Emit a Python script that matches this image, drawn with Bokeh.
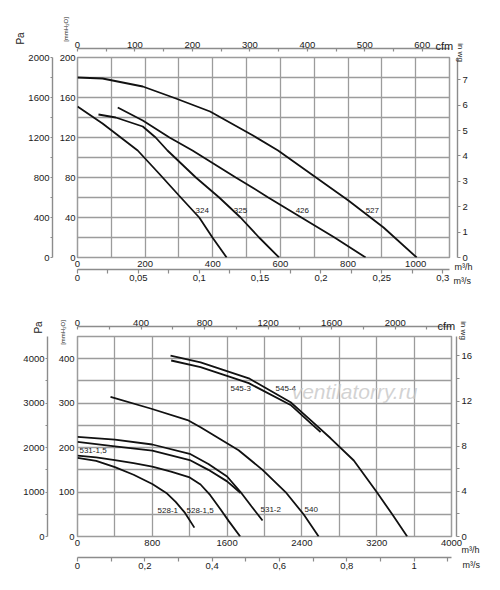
import math
from bokeh.plotting import figure
from bokeh.models import Range1d, LinearAxis, FixedTicker, Label, ColumnDataSource
from bokeh.layouts import column
from bokeh.embed import file_html
from bokeh.resources import INLINE
from bokeh.core.properties import value

FONT = "Liberation Sans"
INK = "#1a1a1a"
GRID = "#9c9c9c"
AXIS = "#8c8c8c"
TICK_SIZE = "9.5px"

# ---------------- top chart data (m3/h , mmH2O) ----------------
q324 = [0, 74, 178, 241, 300, 360, 399, 441]
p324 = [151, 134, 107, 84, 62, 40, 20, 0]
q325 = [62, 113, 193, 231, 266, 350, 419, 482, 537, 596]
p325 = [143, 140, 131, 120, 107, 80, 60, 40, 20, 0]
q426 = [119, 193, 272, 340, 468, 517, 564, 662, 760, 852]
p426 = [150, 137, 120, 107, 80, 70, 60, 40, 20, 0]
q527 = [0, 74, 193, 291, 392, 519, 593, 697, 801, 905, 1003]
p527 = [180, 179, 171, 159, 146, 122, 107, 82, 57, 30, 0]

top_names = ["324", "325", "426", "527"]
top_name_q = [349, 462, 645, 852]
top_name_p = [47, 47, 47, 47]

top_q_max = 1100
top_p_max = 200
top_mh_ticks = [0, 200, 400, 600, 800, 1000]
top_grid_q = list(range(0, 1101, 100))
top_grid_p = list(range(0, 201, 20))
top_mm_ticks = [0, 40, 80, 120, 160, 200]
top_pa_ticks = [0, 400, 800, 1200, 1600, 2000]
top_pa_minor = [200, 600, 1000, 1400, 1800]
top_inwg_ticks = [0, 1, 2, 3, 4, 5, 6, 7]
top_cfm_ticks = [0, 100, 200, 300, 400, 500, 600]
top_cfm_minor = [50, 150, 250, 350, 450, 550]
top_ms_ticks = [0, 0.05, 0.1, 0.15, 0.2, 0.25, 0.3]
top_ms_labels = ["0", "0,05", "0,1", "0,15", "0,2", "0,25", "0,3"]
top_ms_minor = [0.025, 0.075, 0.125, 0.175, 0.225, 0.275]

# ---------------- bottom chart data (m3/h , mmH2O) ----------------
q545_3 = [1002, 1316, 1832, 2279, 2493, 2600]
p545_3 = [396, 381, 345, 296, 255, 235]
q545_4 = [995, 1316, 1832, 2279, 2493, 2707, 2955, 3200, 3366, 3526]
p545_4 = [407, 392, 356, 302, 262, 221, 171, 100, 50, 0]
q540 = [353, 781, 1177, 1316, 1723, 1979, 2225, 2418, 2579]
p540 = [314, 288, 262, 246, 194, 150, 100, 50, 0]
q531_2 = [0, 400, 800, 1200, 1400, 1600, 1744, 1860, 1979]
p531_2 = [224, 218, 207, 186, 163, 135, 100, 68, 36]
q531_15 = [0, 400, 800, 1200, 1400, 1600, 1744]
p531_15 = [213, 203, 193, 172, 150, 124, 98]
q528_15 = [0, 200, 400, 600, 800, 1000, 1200, 1316, 1420, 1527, 1620, 1740]
p528_15 = [182, 178, 172, 165, 157, 146, 133, 117, 93, 62, 34, 0]
q528_1 = [0, 200, 400, 600, 800, 950, 1050, 1150, 1250]
p528_1 = [177, 170, 156, 139, 118, 98, 78, 53, 20]

bot_names = ["545-3", "545-4", "531-1,5", "528-1", "528-1,5", "531-2", "540"]
bot_name_q = [1636, 2118, 21, 856, 1166, 1957, 2428]
bot_name_p = [333, 333, 194, 58, 58, 61, 61]

bot_q_max = 4000
bot_p_max = 450
bot_mh_ticks = [0, 800, 1600, 2400, 3200, 4000]
bot_grid_q = list(range(0, 4001, 400))
bot_grid_p = list(range(0, 451, 50))
bot_mm_ticks = [0, 100, 200, 300, 400]
bot_pa_ticks = [0, 1000, 2000, 3000, 4000]
bot_pa_minor = [500, 1500, 2500, 3500]
bot_inwg_ticks = [0, 4, 8, 12, 16]
bot_inwg_minor = [2, 6, 10, 14]
bot_cfm_ticks = [0, 400, 800, 1200, 1600, 2000]
bot_cfm_minor = [200, 600, 1000, 1400, 1800, 2200]
bot_ms_ticks = [0, 0.2, 0.4, 0.6, 0.8, 1.0]
bot_ms_labels = ["0", "0,2", "0,4", "0,6", "0,8", "1"]
bot_ms_minor = [0.1, 0.3, 0.5, 0.7, 0.9, 1.1]

watermark = "ventilatorry.ru"

CFM = 1.699      # m3/h per cfm
INWG = 25.4      # mmH2O per in wg
PA = 10.0        # Pa per mmH2O (as drawn on the chart)


def spacer(n, at, **kw):
    # blank axis that only reserves a gap of about n pixels
    return LinearAxis(ticker=FixedTicker(ticks=[at]), axis_line_color=None,
                      major_tick_line_color=None, minor_tick_line_color=None,
                      major_tick_out=0, major_tick_in=0, minor_tick_out=0, minor_tick_in=0,
                      major_label_standoff=max(n - 1, 0), major_label_text_font_size="1px",
                      major_label_text_color="white", major_label_overrides={at: " "}, **kw)


def axis(ticks, minor=None, labels=None, line=True, t_in=0, t_out=0, standoff=2, **kw):
    ax = LinearAxis(ticker=FixedTicker(ticks=ticks, minor_ticks=minor or []), **kw)
    ax.axis_line_color = AXIS if line else None
    ax.axis_line_width = 1.4
    ax.major_tick_line_color = AXIS if (t_in or t_out) else None
    ax.minor_tick_line_color = AXIS if (minor and (t_in or t_out)) else None
    ax.major_tick_line_width = 1.2
    ax.minor_tick_line_width = 1.2
    ax.major_tick_in = t_in
    ax.major_tick_out = t_out
    ax.minor_tick_in = t_in
    ax.minor_tick_out = t_out
    ax.major_label_standoff = standoff
    ax.major_label_text_font = FONT
    ax.major_label_text_font_size = TICK_SIZE
    ax.major_label_text_color = INK
    if labels is not None:
        ax.major_label_overrides = {t: l for t, l in zip(ticks, labels)}
    return ax


def note(p, side, x, y, text, size, angle=0.0, align="left", baseline="middle"):
    # unit caption placed in a side panel, positioned in canvas pixels
    p.add_layout(Label(x=x, y=y, x_units="canvas", y_units="canvas", text=text,
                       angle=angle, text_align=align, text_baseline=baseline,
                       text_font=FONT, text_font_size=size, text_color=INK), side)


def base(qmax, pmax, fw, fh, bl, br, bt, bb, grid_q, grid_p):
    p = figure(frame_width=fw, frame_height=fh, x_range=Range1d(0, qmax), y_range=Range1d(0, pmax),
               x_axis_location=None, y_axis_location=None, toolbar_location=None,
               output_backend="svg", min_border_left=bl, min_border_right=br,
               min_border_top=bt, min_border_bottom=bb,
               background_fill_color="white", border_fill_color="white")
    p.xgrid.ticker = FixedTicker(ticks=grid_q)
    p.ygrid.ticker = FixedTicker(ticks=grid_p)
    p.grid.grid_line_color = GRID
    p.grid.grid_line_width = 1.3
    p.outline_line_color = GRID
    p.outline_line_width = 1.5
    p.extra_x_ranges = {"cfm": Range1d(0, qmax / CFM), "ms": Range1d(0, qmax / 3600.0)}
    p.extra_y_ranges = {"pa": Range1d(0, pmax * PA), "inwg": Range1d(0, pmax / INWG)}
    return p


def curves(p, series):
    for q, v in series:
        p.line(q, v, line_color="#111111", line_width=1.8)


def names(p, q, v, t, size):
    src = ColumnDataSource(dict(x=q, y=v, t=t))
    p.text(x="x", y="y", text="t", source=src, text_font=value(FONT), text_font_size=size,
           text_color=INK, text_align="left", text_baseline="middle")


# ================= top chart =================
p1 = base(top_q_max, top_p_max, 372, 200, 75, 50, 57, 43, top_grid_q, top_grid_p)
curves(p1, [(q324, p324), (q325, p325), (q426, p426), (q527, p527)])
names(p1, top_name_q, top_name_p, top_names, "8px")

p1.add_layout(axis(top_mh_ticks, line=False, standoff=3), "below")
p1.add_layout(axis(top_ms_ticks, top_ms_minor, top_ms_labels, t_out=4, standoff=1, x_range_name="ms"), "below")
p1.add_layout(spacer(6, 550), "above")
p1.add_layout(axis(top_cfm_ticks, top_cfm_minor, t_in=3, standoff=1, x_range_name="cfm"), "above")
p1.add_layout(axis(top_mm_ticks, line=False, standoff=2), "left")
p1.add_layout(spacer(2, 100), "left")
p1.add_layout(axis(top_pa_ticks, top_pa_minor, t_out=2, standoff=1, y_range_name="pa"), "left")
p1.add_layout(spacer(6, 100), "right")
p1.add_layout(axis(top_inwg_ticks, t_out=3, standoff=2, y_range_name="inwg"), "right")

note(p1, "left", 20, 38, "Pa", "10px", angle=math.pi / 2, align="center")
note(p1, "left", 65, 29, "[mmH\u2082O]", "6px", angle=math.pi / 2, align="center")
note(p1, "right", 460, 52, "in wg", "8px", angle=-math.pi / 2, align="center")
note(p1, "right", 435, 45, "cfm", "11px")
note(p1, "above", 454, 266, "m\u00b3/h", "9px")
note(p1, "above", 453, 280, "m\u00b3/s", "9px")

# ================= bottom chart =================
p2 = base(bot_q_max, bot_p_max, 374, 200, 77, 49, 36, 50, bot_grid_q, bot_grid_p)
curves(p2, [(q545_3, p545_3), (q545_4, p545_4), (q540, p540), (q531_2, p531_2),
            (q531_15, p531_15), (q528_15, p528_15), (q528_1, p528_1)])
names(p2, bot_name_q, bot_name_p, bot_names, "8px")
p2.add_layout(Label(x=277, y=145, x_units="screen", y_units="screen", text=watermark,
                    text_font=FONT, text_font_size="21px", text_font_style="italic",
                    text_color="#c4c4c4", text_alpha=0.75, text_align="center",
                    text_baseline="middle"))

p2.add_layout(axis(bot_mh_ticks, line=False, standoff=3), "below")
p2.add_layout(spacer(6, 2000), "below")
p2.add_layout(axis(bot_ms_ticks, bot_ms_minor, bot_ms_labels, t_out=4, standoff=1, x_range_name="ms"), "below")
p2.add_layout(spacer(7, 2000), "above")
p2.add_layout(axis(bot_cfm_ticks, bot_cfm_minor, t_in=3, standoff=1, x_range_name="cfm"), "above")
p2.add_layout(axis(bot_mm_ticks, line=False, standoff=3), "left")
p2.add_layout(spacer(6, 200), "left")
p2.add_layout(axis(bot_pa_ticks, bot_pa_minor, t_out=2, standoff=1, y_range_name="pa"), "left")
p2.add_layout(spacer(3, 200), "right")
p2.add_layout(axis(bot_inwg_ticks, bot_inwg_minor, t_out=3, standoff=2, y_range_name="inwg"), "right")

note(p2, "left", 38, 27, "Pa", "10px", angle=math.pi / 2, align="center")
note(p2, "left", 62, 32, "[mmH\u2082O]", "6px", angle=math.pi / 2, align="center")
note(p2, "right", 463, 30, "in wg", "8px", angle=-math.pi / 2, align="center")
note(p2, "right", 437, 25, "cfm", "11px")
note(p2, "above", 461, 249, "m\u00b3/h", "9px")
note(p2, "below", 462, 264, "m\u00b3/s", "9px")

layout = column(p1, p2, spacing=0)
open("out.html", "w").write(file_html(layout, INLINE))
